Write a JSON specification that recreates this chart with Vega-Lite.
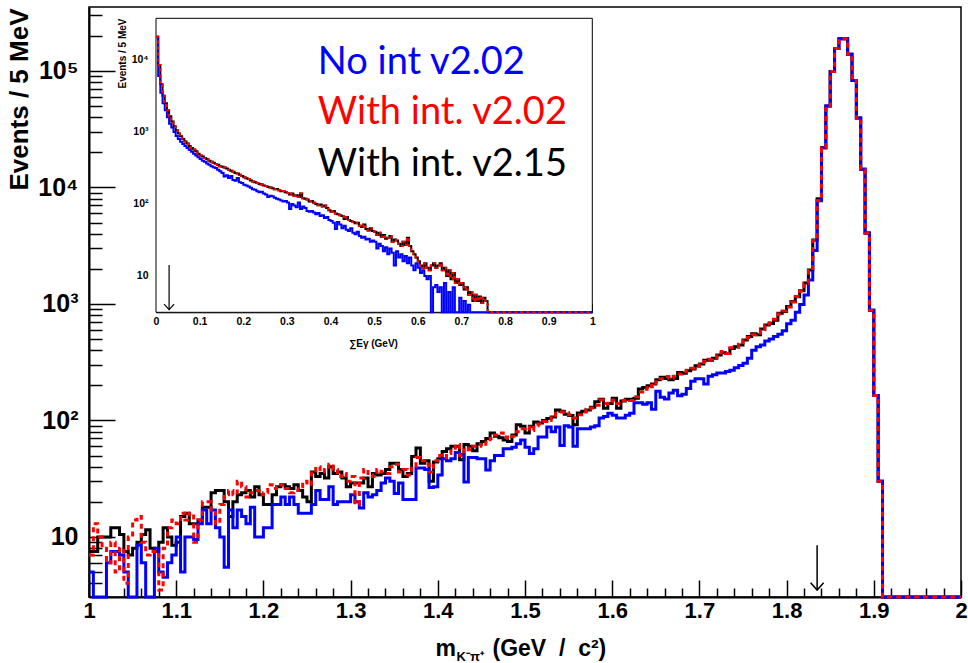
{
"$schema": "https://vega.github.io/schema/vega-lite/v6.json",
"width": 872, "height": 590,
"autosize": {"type": "none"},
"padding": {"left": 89, "top": 7, "right": 7, "bottom": 66},
"background": "white",
"config": {
  "view": {"stroke": "black", "strokeWidth": 1.5},
  "axis": {"grid": false, "domainColor": "black", "tickColor": "black", "labelColor": "black", "titleColor": "black",
    "labelFont": "Liberation Sans", "titleFont": "Liberation Sans", "labelFontWeight": "bold", "titleFontWeight": "bold",
    "labelOverlap": false, "labelBound": false, "labelFlush": false}
},
"datasets": {
  "main": [
{"m":1.000,"k":7.5,"b":5,"r":7},{"m":1.005,"k":7.5,"b":3.05,"r":13},{"m":1.010,"k":10,"b":3.05,"r":10},{"m":1.015,"k":10,"b":3.05,"r":8},
{"m":1.020,"k":10,"b":6,"r":6},{"m":1.025,"k":12,"b":7.5,"r":9},{"m":1.030,"k":12,"b":7.5,"r":5},{"m":1.035,"k":10.5,"b":7,"r":8},
{"m":1.040,"k":7.5,"b":5,"r":4},{"m":1.045,"k":7,"b":3.05,"r":10},{"m":1.050,"k":8,"b":3.05,"r":14},{"m":1.055,"k":9,"b":8.5,"r":15},
{"m":1.060,"k":10.5,"b":6,"r":9},{"m":1.065,"k":11.5,"b":3.05,"r":7},{"m":1.070,"k":8,"b":3.05,"r":7.5},{"m":1.075,"k":7.5,"b":8,"r":7.5},
{"m":1.080,"k":9,"b":5,"r":3.5},{"m":1.085,"k":12,"b":4.5,"r":8},{"m":1.090,"k":10,"b":6,"r":12},{"m":1.095,"k":8.5,"b":7,"r":14},
{"m":1.100,"k":9,"b":10,"r":13},{"m":1.105,"k":15,"b":5,"r":16},{"m":1.110,"k":16,"b":10,"r":14},{"m":1.115,"k":13,"b":10,"r":16},
{"m":1.120,"k":13,"b":9.5,"r":9},{"m":1.125,"k":14,"b":13,"r":14},{"m":1.130,"k":18,"b":17,"r":20},{"m":1.135,"k":18,"b":13,"r":20},
{"m":1.140,"k":24,"b":17,"r":17},{"m":1.145,"k":25,"b":12,"r":13},{"m":1.150,"k":25,"b":10,"r":19},{"m":1.155,"k":20,"b":5.5,"r":23},
{"m":1.160,"k":15,"b":17,"r":25},{"m":1.165,"k":20,"b":12,"r":23},{"m":1.170,"k":23,"b":17,"r":30},{"m":1.175,"k":24,"b":15,"r":27},
{"m":1.180,"k":25,"b":13,"r":22},{"m":1.185,"k":22,"b":18,"r":24},{"m":1.190,"k":27,"b":10,"r":25},{"m":1.195,"k":23,"b":10,"r":23},
{"m":1.200,"k":19,"b":12,"r":24},{"m":1.205,"k":19,"b":12,"r":28},{"m":1.210,"k":23,"b":19,"r":26},{"m":1.215,"k":27,"b":19,"r":27},
{"m":1.220,"k":28,"b":22,"r":28},{"m":1.225,"k":27,"b":19,"r":26},{"m":1.230,"k":26,"b":22,"r":24},{"m":1.235,"k":28,"b":19,"r":25},
{"m":1.240,"k":25,"b":16,"r":27},{"m":1.245,"k":22,"b":16,"r":30},{"m":1.250,"k":20,"b":16,"r":28},{"m":1.255,"k":36,"b":19,"r":37},
{"m":1.260,"k":33,"b":25,"r":40},{"m":1.265,"k":35,"b":21,"r":36},{"m":1.270,"k":32,"b":21,"r":38},{"m":1.275,"k":40,"b":27,"r":42},
{"m":1.280,"k":35,"b":19,"r":38},{"m":1.285,"k":36,"b":20,"r":33},{"m":1.290,"k":32,"b":20,"r":35},{"m":1.295,"k":27,"b":20,"r":30},
{"m":1.300,"k":29,"b":23,"r":33},{"m":1.305,"k":29,"b":20,"r":19},{"m":1.310,"k":29,"b":17.7,"r":32},{"m":1.315,"k":32,"b":24,"r":38},
{"m":1.320,"k":27,"b":22,"r":34},{"m":1.325,"k":35,"b":23,"r":33},{"m":1.330,"k":34,"b":25,"r":38},{"m":1.335,"k":35,"b":29,"r":36},
{"m":1.340,"k":38,"b":32,"r":35},{"m":1.345,"k":43,"b":30,"r":40},{"m":1.350,"k":43,"b":23.6,"r":42},{"m":1.355,"k":38,"b":29,"r":36},
{"m":1.360,"k":33,"b":21,"r":38},{"m":1.365,"k":35,"b":21,"r":34},{"m":1.370,"k":49,"b":21,"r":40},{"m":1.375,"k":58,"b":39,"r":48},
{"m":1.380,"k":43,"b":39,"r":45},{"m":1.385,"k":45,"b":38,"r":42},{"m":1.390,"k":30,"b":26.5,"r":36},{"m":1.395,"k":44,"b":27,"r":45},
{"m":1.400,"k":47,"b":34,"r":50},{"m":1.405,"k":54,"b":47,"r":48},{"m":1.410,"k":57,"b":45,"r":52},{"m":1.415,"k":60,"b":47,"r":55},
{"m":1.420,"k":60,"b":53,"r":62},{"m":1.425,"k":46,"b":51,"r":50},{"m":1.430,"k":62,"b":29.6,"r":58},{"m":1.435,"k":60,"b":48,"r":56},
{"m":1.440,"k":55,"b":48,"r":60},{"m":1.445,"k":63,"b":47,"r":62},{"m":1.450,"k":66,"b":47,"r":60},{"m":1.455,"k":70,"b":37.6,"r":65},
{"m":1.460,"k":78,"b":45,"r":70},{"m":1.465,"k":73,"b":50,"r":75},{"m":1.470,"k":71,"b":50,"r":78},{"m":1.475,"k":68,"b":57,"r":72},
{"m":1.480,"k":66,"b":57,"r":70},{"m":1.485,"k":75,"b":59,"r":73},{"m":1.490,"k":92,"b":63,"r":80},{"m":1.495,"k":89,"b":68,"r":85},
{"m":1.500,"k":78,"b":59,"r":88},{"m":1.505,"k":89,"b":52,"r":82},{"m":1.510,"k":97,"b":57,"r":90},{"m":1.515,"k":95,"b":72,"r":93},
{"m":1.520,"k":100,"b":72,"r":98},{"m":1.525,"k":104,"b":88,"r":100},{"m":1.530,"k":107,"b":80,"r":110},{"m":1.535,"k":123,"b":88,"r":115},
{"m":1.540,"k":120,"b":61,"r":118},{"m":1.545,"k":113,"b":90,"r":117},{"m":1.550,"k":110,"b":88,"r":112},{"m":1.555,"k":92,"b":60,"r":105},
{"m":1.560,"k":116,"b":85,"r":112},{"m":1.565,"k":120,"b":85,"r":118},{"m":1.570,"k":123,"b":85,"r":125},{"m":1.575,"k":130,"b":88,"r":128},
{"m":1.580,"k":145,"b":90,"r":135},{"m":1.585,"k":152,"b":105,"r":150},{"m":1.590,"k":127,"b":108,"r":140},{"m":1.595,"k":140,"b":115,"r":145},
{"m":1.600,"k":155,"b":111,"r":150},{"m":1.605,"k":127,"b":105,"r":140},{"m":1.610,"k":147,"b":105,"r":148},{"m":1.615,"k":152,"b":111,"r":150},
{"m":1.620,"k":152,"b":115,"r":148},{"m":1.625,"k":155,"b":142,"r":160},{"m":1.630,"k":186,"b":142,"r":175},{"m":1.635,"k":192,"b":138,"r":185},
{"m":1.640,"k":198,"b":142,"r":200},{"m":1.645,"k":205,"b":125,"r":195},{"m":1.650,"k":223,"b":178,"r":215},{"m":1.655,"k":235,"b":158,"r":228},
{"m":1.660,"k":229,"b":153,"r":238},{"m":1.665,"k":223,"b":172,"r":230},{"m":1.670,"k":229,"b":182,"r":240},{"m":1.675,"k":258,"b":163,"r":250},
{"m":1.680,"k":254,"b":168,"r":262},{"m":1.685,"k":267,"b":188,"r":270},{"m":1.690,"k":276,"b":217,"r":280},{"m":1.695,"k":295,"b":228,"r":290},
{"m":1.700,"k":305,"b":228,"r":300},{"m":1.705,"k":328,"b":205,"r":320},{"m":1.710,"k":328,"b":240,"r":335},{"m":1.715,"k":342,"b":247,"r":345},
{"m":1.720,"k":365,"b":255,"r":360},{"m":1.725,"k":382,"b":255,"r":390},{"m":1.730,"k":376,"b":263,"r":375},{"m":1.735,"k":414,"b":270,"r":420},
{"m":1.740,"k":430,"b":283,"r":425},{"m":1.745,"k":445,"b":296,"r":450},{"m":1.750,"k":490,"b":310,"r":500},{"m":1.755,"k":525,"b":342,"r":515},
{"m":1.760,"k":555,"b":400,"r":545},{"m":1.765,"k":545,"b":430,"r":560},{"m":1.770,"k":610,"b":445,"r":600},{"m":1.775,"k":660,"b":480,"r":650},
{"m":1.780,"k":680,"b":500,"r":690},{"m":1.785,"k":725,"b":525,"r":740},{"m":1.790,"k":830,"b":550,"r":820},{"m":1.795,"k":860,"b":590,"r":870},
{"m":1.800,"k":950,"b":675,"r":940},{"m":1.805,"k":1050,"b":725,"r":1040},{"m":1.810,"k":1150,"b":850,"r":1160},{"m":1.815,"k":1300,"b":990,"r":1290},
{"m":1.820,"k":1510,"b":1195,"r":1500},{"m":1.825,"k":1960,"b":1607,"r":1950},{"m":1.830,"k":3540,"b":2880,"r":3500},{"m":1.835,"k":8000,"b":7700,"r":7700},
{"m":1.840,"k":21900,"b":21900,"r":21900},{"m":1.845,"k":50000,"b":50000,"r":50000},{"m":1.850,"k":98900,"b":98900,"r":98900},{"m":1.855,"k":156000,"b":156000,"r":156000},
{"m":1.860,"k":189000,"b":189000,"r":189000},{"m":1.865,"k":189000,"b":189000,"r":189000},{"m":1.870,"k":139000,"b":139000,"r":139000},{"m":1.875,"k":83000,"b":83000,"r":83000},
{"m":1.880,"k":39500,"b":39500,"r":39500},{"m":1.885,"k":14300,"b":14300,"r":14300},{"m":1.890,"k":4070,"b":4070,"r":4070},{"m":1.895,"k":883,"b":883,"r":883},
{"m":1.900,"k":164,"b":164,"r":164},{"m":1.905,"k":30,"b":30,"r":30},{"m":1.910,"k":3.05,"b":3.05,"r":3.05},{"m":2.000,"k":3.05,"b":3.05,"r":3.05}
  ],
  "inset": [
{"e":0.000,"k":21000,"b":21000},{"e":0.005,"k":8500,"b":6000},{"e":0.010,"k":4600,"b":3500},{"e":0.015,"k":3200,"b":2500},
{"e":0.020,"k":2500,"b":2000},{"e":0.025,"k":2000,"b":1600},{"e":0.030,"k":1650,"b":1300},{"e":0.035,"k":1400,"b":1150},
{"e":0.040,"k":1200,"b":1000},{"e":0.045,"k":1060,"b":880},{"e":0.050,"k":950,"b":800},{"e":0.055,"k":870,"b":730},
{"e":0.060,"k":800,"b":680},{"e":0.065,"k":740,"b":640},{"e":0.070,"k":690,"b":600},{"e":0.075,"k":640,"b":560},
{"e":0.080,"k":600,"b":530},{"e":0.085,"k":570,"b":500},{"e":0.090,"k":540,"b":470},{"e":0.095,"k":500,"b":445},
{"e":0.100,"k":470,"b":420},{"e":0.105,"k":455,"b":400},{"e":0.110,"k":435,"b":385},{"e":0.115,"k":420,"b":365},
{"e":0.120,"k":400,"b":350},{"e":0.125,"k":385,"b":335},{"e":0.130,"k":375,"b":325},{"e":0.135,"k":360,"b":315},
{"e":0.140,"k":350,"b":300},{"e":0.145,"k":335,"b":285},{"e":0.150,"k":330,"b":270},{"e":0.155,"k":320,"b":240},
{"e":0.160,"k":310,"b":250},{"e":0.165,"k":300,"b":230},{"e":0.170,"k":290,"b":245},{"e":0.175,"k":280,"b":215},
{"e":0.180,"k":270,"b":210},{"e":0.185,"k":265,"b":230},{"e":0.190,"k":255,"b":200},{"e":0.195,"k":245,"b":195},
{"e":0.200,"k":235,"b":185},{"e":0.205,"k":228,"b":180},{"e":0.210,"k":222,"b":175},{"e":0.215,"k":212,"b":168},
{"e":0.220,"k":205,"b":160},{"e":0.225,"k":200,"b":158},{"e":0.230,"k":196,"b":150},{"e":0.235,"k":190,"b":145},
{"e":0.240,"k":186,"b":148},{"e":0.245,"k":180,"b":140},{"e":0.250,"k":178,"b":135},{"e":0.255,"k":172,"b":125},
{"e":0.260,"k":170,"b":130},{"e":0.265,"k":165,"b":128},{"e":0.270,"k":160,"b":122},{"e":0.275,"k":162,"b":118},
{"e":0.280,"k":155,"b":115},{"e":0.285,"k":150,"b":112},{"e":0.290,"k":152,"b":108},{"e":0.295,"k":145,"b":110},
{"e":0.300,"k":142,"b":105},{"e":0.305,"k":135,"b":85},{"e":0.310,"k":140,"b":100},{"e":0.315,"k":130,"b":95},
{"e":0.320,"k":132,"b":90},{"e":0.325,"k":125,"b":105},{"e":0.330,"k":140,"b":85},{"e":0.335,"k":120,"b":92},
{"e":0.340,"k":118,"b":88},{"e":0.345,"k":115,"b":80},{"e":0.350,"k":108,"b":78},{"e":0.355,"k":110,"b":80},
{"e":0.360,"k":104,"b":76},{"e":0.365,"k":100,"b":72},{"e":0.370,"k":96,"b":75},{"e":0.375,"k":98,"b":68},
{"e":0.380,"k":92,"b":70},{"e":0.385,"k":95,"b":64},{"e":0.390,"k":88,"b":66},{"e":0.395,"k":82,"b":60},
{"e":0.400,"k":78,"b":58},{"e":0.405,"k":80,"b":55},{"e":0.410,"k":74,"b":45},{"e":0.415,"k":72,"b":56},
{"e":0.420,"k":70,"b":52},{"e":0.425,"k":68,"b":46},{"e":0.430,"k":62,"b":50},{"e":0.435,"k":66,"b":44},
{"e":0.440,"k":60,"b":42},{"e":0.445,"k":58,"b":46},{"e":0.450,"k":56,"b":40},{"e":0.455,"k":54,"b":38},
{"e":0.460,"k":55,"b":41},{"e":0.465,"k":50,"b":36},{"e":0.470,"k":48,"b":34},{"e":0.475,"k":52,"b":35},
{"e":0.480,"k":45,"b":32},{"e":0.485,"k":43,"b":33},{"e":0.490,"k":46,"b":30},{"e":0.495,"k":42,"b":31},
{"e":0.500,"k":41,"b":30},{"e":0.505,"k":37,"b":24},{"e":0.510,"k":40,"b":28},{"e":0.515,"k":35,"b":26},
{"e":0.520,"k":37,"b":22},{"e":0.525,"k":33,"b":25},{"e":0.530,"k":34,"b":20},{"e":0.535,"k":36,"b":24},
{"e":0.540,"k":30,"b":21},{"e":0.545,"k":32,"b":14},{"e":0.550,"k":31,"b":22},{"e":0.555,"k":28,"b":18},
{"e":0.560,"k":26,"b":20},{"e":0.565,"k":30,"b":16},{"e":0.570,"k":27,"b":19},{"e":0.575,"k":34,"b":15},
{"e":0.580,"k":26,"b":18},{"e":0.585,"k":22,"b":14},{"e":0.590,"k":20,"b":12},{"e":0.595,"k":18,"b":15},
{"e":0.600,"k":16,"b":13},{"e":0.605,"k":14,"b":11},{"e":0.610,"k":13,"b":12},{"e":0.615,"k":15,"b":10},
{"e":0.620,"k":13,"b":9},{"e":0.625,"k":12,"b":10},{"e":0.630,"k":14,"b":3.13},{"e":0.635,"k":15,"b":7},
{"e":0.640,"k":13,"b":7.5},{"e":0.645,"k":14,"b":6},{"e":0.650,"k":15,"b":7},{"e":0.655,"k":12,"b":3.13},
{"e":0.660,"k":13,"b":8},{"e":0.665,"k":10,"b":3.13},{"e":0.670,"k":12,"b":6},{"e":0.675,"k":9,"b":3.13},
{"e":0.680,"k":11,"b":7},{"e":0.685,"k":8,"b":3.13},{"e":0.690,"k":9,"b":3.13},{"e":0.695,"k":7.5,"b":5},
{"e":0.700,"k":8,"b":3.13},{"e":0.705,"k":6.5,"b":4.5},{"e":0.710,"k":7,"b":3.13},{"e":0.715,"k":5.5,"b":4},
{"e":0.720,"k":6,"b":3.13},{"e":0.725,"k":4.5,"b":3.13},{"e":0.730,"k":5.5,"b":3.13},{"e":0.735,"k":4.5,"b":3.13},
{"e":0.740,"k":5.2,"b":3.13},{"e":0.745,"k":4.2,"b":3.13},{"e":0.750,"k":5,"b":3.13},{"e":0.755,"k":4.5,"b":3.13},
{"e":0.760,"k":3.13,"b":3.13},{"e":1.000,"k":3.13,"b":3.13}
  ],
  "frame": [{"e":0,"e2":1,"lo":3.13,"hi":37950}],
  "mainArrow": [{"m":1.835,"v1":8.5,"v2":3.5}],
  "insetArrow": [{"e":0.03,"v1":14.2,"v2":3.4}],
  "legend": [
    {"e":0.371,"v":9080,"t":"No int v2.02","c":"#0000ff"},
    {"e":0.371,"v":1836,"t":"With int. v2.02","c":"#ff0000"},
    {"e":0.371,"v":348,"t":"With int. v2.15","c":"#000000"}
  ]
},
"layer": [
  {
    "data": {"name": "main"},
    "layer": [
      {"mark": {"type": "line", "interpolate": "step-after", "color": "black", "strokeWidth": 3},
       "encoding": {
         "x": {"field": "m", "type": "quantitative", "scale": {"domain": [1, 2], "nice": false, "zero": false},
           "axis": {"orient": "bottom", "values": [1,1.1,1.2,1.3,1.4,1.5,1.6,1.7,1.8,1.9,2], "format": ".1~f",
             "tickSize": -17, "tickWidth": 1.5, "domainWidth": 2, "labelFontSize": 22, "labelPadding": 20,
             "title": "(GeV\u00a0 /\u00a0 c²)", "titleFontSize": 23, "titleX": 403, "titleY": 58, "titleAlign": "left", "titleBaseline": "alphabetic"}},
         "y": {"field": "k", "type": "quantitative", "scale": {"type": "log", "domain": [3.05, 354000], "nice": false},
           "axis": {"orient": "left", "values": [10,100,1000,10000,100000],
             "labelExpr": "['','10','10²','10³','10⁴','10⁵'][round(log(datum.value)/LN10)]",
             "tickSize": -26, "tickWidth": 1.5, "domainWidth": 2, "labelFontSize": 25, "labelPadding": 37,
             "title": "Events / 5 MeV", "titleFontSize": 26, "titleAngle": -90, "titleX": -62, "titleY": 1,
             "titleAlign": "right", "titleBaseline": "alphabetic"}}
       }},
      {"mark": {"type": "line", "interpolate": "step-after", "color": "#0000ff", "strokeWidth": 3},
       "encoding": {
         "x": {"field": "m", "type": "quantitative",
           "axis": {"orient": "bottom", "values": [1.02,1.04,1.06,1.08,1.12,1.14,1.16,1.18,1.22,1.24,1.26,1.28,1.32,1.34,1.36,1.38,1.42,1.44,1.46,1.48,1.52,1.54,1.56,1.58,1.62,1.64,1.66,1.68,1.72,1.74,1.76,1.78,1.82,1.84,1.86,1.88,1.92,1.94,1.96,1.98],
             "tickSize": -9, "tickWidth": 1.5, "labels": false, "domain": false, "title": null}},
         "y": {"field": "b", "type": "quantitative",
           "axis": {"orient": "left", "values": [4,5,6,7,8,9,20,30,40,50,60,70,80,90,200,300,400,500,600,700,800,900,2000,3000,4000,5000,6000,7000,8000,9000,20000,30000,40000,50000,60000,70000,80000,90000,200000,300000],
             "tickSize": -13, "tickWidth": 1.5, "labels": false, "domain": false, "title": null}}
       }},
      {"mark": {"type": "line", "interpolate": "step-after", "color": "#ff0000", "strokeWidth": 3, "strokeDash": [5, 4]},
       "encoding": {
         "x": {"field": "m", "type": "quantitative", "axis": null},
         "y": {"field": "r", "type": "quantitative", "axis": null}
       }},
      {"data": {"name": "mainArrow"},
       "mark": {"type": "rule", "color": "black", "strokeWidth": 1.5},
       "encoding": {
         "x": {"field": "m", "type": "quantitative",
           "axis": {"orient": "bottom", "ticks": false, "labels": false, "domain": false, "title": "m",
             "titleFontSize": 23, "titleX": 346, "titleY": 58, "titleAlign": "left", "titleBaseline": "alphabetic"}},
         "y": {"field": "v1", "type": "quantitative", "axis": null},
         "y2": {"field": "v2"}
       }},
      {"data": {"name": "mainArrow"},
       "mark": {"type": "point", "shape": "M-1,-1.1L0,0L1,-1.1", "filled": false, "stroke": "black", "strokeWidth": 1.5, "opacity": 1, "size": 170},
       "encoding": {
         "x": {"field": "m", "type": "quantitative",
           "axis": {"orient": "bottom", "ticks": false, "labels": false, "domain": false, "title": "K⁻π⁺",
             "titleFontSize": 13, "titleX": 367, "titleY": 63, "titleAlign": "left", "titleBaseline": "alphabetic"}},
         "y": {"field": "v2", "type": "quantitative", "axis": null}
       }}
    ],
    "resolve": {"axis": {"x": "independent", "y": "independent"}}
  },
  {
    "layer": [
      {"data": {"name": "frame"},
       "mark": {"type": "rect", "fill": "white", "stroke": "black", "strokeWidth": 1},
       "encoding": {
         "x": {"field": "e", "type": "quantitative", "scale": {"domain": [0, 1], "range": [67, 503.3], "nice": false, "zero": false},
           "axis": {"orient": "bottom", "offset": -284.7, "values": [0,0.1,0.2,0.3,0.4,0.5,0.6,0.7,0.8,0.9,1], "format": ".1~f",
             "tickSize": -9, "tickWidth": 1, "domainWidth": 1, "labelFontSize": 10.5, "labelPadding": 13,
             "title": "∑Eγ (GeV)", "titleFontSize": 10, "titleX": 284, "titleY": 34, "titleAlign": "center", "titleBaseline": "alphabetic"}},
         "x2": {"field": "e2"},
         "y": {"field": "lo", "type": "quantitative", "scale": {"type": "log", "domain": [3.13, 37950], "range": [305.3, 11.3], "nice": false},
           "axis": {"orient": "left", "offset": -67, "values": [10,100,1000,10000],
             "labelExpr": "['','10','10²','10³','10⁴','10⁵'][round(log(datum.value)/LN10)]",
             "tickSize": -13, "tickWidth": 1, "domainWidth": 1, "labelFontSize": 10.5, "labelPadding": 21,
             "title": "Events / 5 MeV", "titleFontSize": 10, "titleAngle": -90, "titleX": -31, "titleY": 11,
             "titleAlign": "right", "titleBaseline": "alphabetic"}},
         "y2": {"field": "hi"}
       }},
      {"data": {"name": "inset"},
       "mark": {"type": "line", "interpolate": "step-after", "color": "black", "strokeWidth": 2},
       "encoding": {
         "x": {"field": "e", "type": "quantitative",
           "axis": {"orient": "bottom", "offset": -284.7, "values": [0.02,0.04,0.06,0.08,0.12,0.14,0.16,0.18,0.22,0.24,0.26,0.28,0.32,0.34,0.36,0.38,0.42,0.44,0.46,0.48,0.52,0.54,0.56,0.58,0.62,0.64,0.66,0.68,0.72,0.74,0.76,0.78,0.82,0.84,0.86,0.88,0.92,0.94,0.96,0.98],
             "tickSize": -4.5, "tickWidth": 1, "labels": false, "domain": false, "title": null}},
         "y": {"field": "k", "type": "quantitative",
           "axis": {"orient": "left", "offset": -67, "values": [4,5,6,7,8,9,20,30,40,50,60,70,80,90,200,300,400,500,600,700,800,900,2000,3000,4000,5000,6000,7000,8000,9000,20000,30000],
             "tickSize": -6.5, "tickWidth": 1, "labels": false, "domain": false, "title": null}}
       }},
      {"data": {"name": "inset"},
       "mark": {"type": "line", "interpolate": "step-after", "color": "#0000ff", "strokeWidth": 2},
       "encoding": {
         "x": {"field": "e", "type": "quantitative", "axis": null},
         "y": {"field": "b", "type": "quantitative", "axis": null}
       }},
      {"data": {"name": "inset"},
       "mark": {"type": "line", "interpolate": "step-after", "color": "#ff0000", "strokeWidth": 2, "strokeDash": [3, 3]},
       "encoding": {
         "x": {"field": "e", "type": "quantitative", "axis": null},
         "y": {"field": "k", "type": "quantitative", "axis": null}
       }},
      {"data": {"name": "insetArrow"},
       "mark": {"type": "rule", "color": "black", "strokeWidth": 1.2},
       "encoding": {
         "x": {"field": "e", "type": "quantitative", "axis": null},
         "y": {"field": "v1", "type": "quantitative", "axis": null},
         "y2": {"field": "v2"}
       }},
      {"data": {"name": "insetArrow"},
       "mark": {"type": "point", "shape": "M-1,-1.1L0,0L1,-1.1", "filled": false, "stroke": "black", "strokeWidth": 1.2, "opacity": 1, "size": 100},
       "encoding": {
         "x": {"field": "e", "type": "quantitative", "axis": null},
         "y": {"field": "v2", "type": "quantitative", "axis": null}
       }},
      {"data": {"name": "legend"},
       "mark": {"type": "text", "align": "left", "baseline": "middle", "font": "Lato", "fontSize": 38},
       "encoding": {
         "x": {"field": "e", "type": "quantitative", "axis": null},
         "y": {"field": "v", "type": "quantitative", "axis": null},
         "text": {"field": "t"},
         "color": {"field": "c", "type": "nominal", "scale": null}
       }}
    ],
    "resolve": {"axis": {"x": "independent", "y": "independent"}}
  }
],
"resolve": {"scale": {"x": "independent", "y": "independent"}}
}
